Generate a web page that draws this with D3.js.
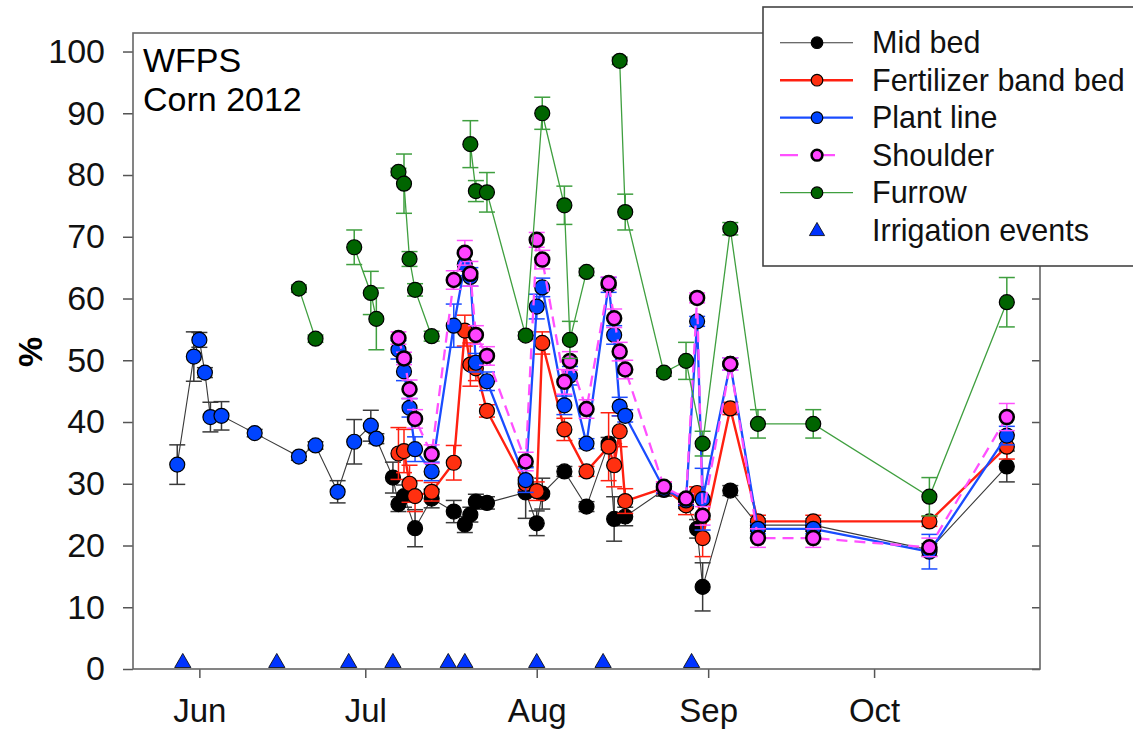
<!DOCTYPE html>
<html>
<head>
<meta charset="utf-8">
<script src="https://cdn.jsdelivr.net/npm/d3@7"></script>
<style>
  body { margin: 0; background: #fff; }
  text { font-family: Arial, "Liberation Sans", sans-serif; }
</style>
</head>
<body>
<div id="chart"></div>
<script>
// x-axis ticks (month starts) and the irrigation dates
const tickMonths = ['2012-06-01', '2012-07-01', '2012-08-01', '2012-09-01', '2012-10-01'];
const yTicks = [0, 10, 20, 30, 40, 50, 60, 70, 80, 90, 100];
const irrigationDates = ['05-29', '06-15', '06-28', '07-06', '07-16', '07-19', '08-01', '08-13', '08-29'];
const irrigationLevel = 1;

// each row: [date (2012), WFPS %, error]; null breaks the line
const midBed = [
  ['05-28', 33.1, 3.2], ['05-31', 50.6, 4.0], ['06-01', 53.3, 1.2], ['06-02', 48.0, 0.8],
  ['06-03', 40.8, 2.4], ['06-05', 41.0, 2.3], ['06-11', 38.2, 0.6], ['06-19', 34.4, 0.6],
  ['06-22', 36.2, 0.6], ['06-26', 28.7, 1.8], ['06-29', 36.8, 3.6], ['07-02', 39.4, 2.5],
  ['07-03', 37.3, 0.8], ['07-06', 31.0, 2.5], ['07-07', 26.7, 1.2], ['07-08', 28.0, 1.8],
  ['07-10', 22.8, 3.0], ['07-13', 27.6, 1.5], ['07-17', 25.5, 1.8], ['07-19', 23.4, 1.3],
  ['07-20', 25.0, 1.2], ['07-21', 27.1, 1.2], ['07-23', 26.9, 1.0], ['07-30', 28.6, 4.2],
  ['08-01', 23.6, 2.0], ['08-02', 28.4, 2.5], ['08-06', 32.0, 0.8], ['08-10', 26.3, 0.8],
  ['08-14', 36.5, 1.0], ['08-15', 24.3, 3.6], ['08-17', 24.7, 1.5], ['08-24', 29.0, 1.0],
  ['08-28', 27.0, 1.0], ['08-30', 22.7, 1.5], ['08-31', 13.3, 3.9], ['09-05', 28.9, 0.8],
  ['09-10', 23.3, 1.0], ['09-20', 23.3, 1.0], ['10-11', 19.3, 1.0], ['10-25', 32.8, 2.5]
];
// mid bed points up to this date are drawn with the plant line symbol
const earlyEnd = '07-03';

const fertBand = [
  ['07-07', 34.9, 4.2], ['07-08', 35.3, 3.5], ['07-09', 30.0, 3.0], ['07-10', 28.0, 2.5],
  ['07-13', 28.7, 1.5], ['07-17', 33.4, 2.8], ['07-19', 54.8, 2.5], ['07-20', 49.3, 3.5],
  ['07-21', 48.7, 2.0], ['07-23', 41.8, 1.0], ['07-30', 30.0, 1.0], ['08-01', 28.8, 1.5],
  ['08-02', 52.8, 1.8], ['08-06', 38.8, 1.8], ['08-10', 32.0, 0.8], ['08-14', 36.0, 5.5],
  ['08-15', 33.0, 3.5], ['08-16', 38.5, 2.5], ['08-17', 27.2, 2.0], ['08-24', 29.3, 1.0],
  ['08-28', 26.5, 1.5], ['08-30', 28.5, 1.0], ['08-31', 21.2, 3.0], ['09-05', 42.2, 1.0],
  ['09-10', 23.9, 1.0], ['09-20', 23.9, 1.0], ['10-11', 23.9, 0.8], ['10-25', 36.0, 2.0]
];

const plantLine = [
  ['07-07', 51.7, 1.5], ['07-08', 48.2, 1.5], ['07-09', 42.3, 1.5], ['07-10', 35.6, 2.0],
  ['07-13', 32.0, 1.5], ['07-17', 55.6, 3.5], ['07-19', 65.5, 1.8], ['07-20', 63.5, 1.5],
  ['07-21', 49.6, 1.5], ['07-23', 46.6, 1.5], ['07-30', 30.6, 2.0], ['08-01', 58.7, 2.0],
  ['08-02', 61.8, 1.5], ['08-06', 42.7, 1.5], ['08-07', 47.5, 1.5], ['08-10', 36.5, 0.8],
  ['08-14', 62.2, 1.2], ['08-15', 54.1, 1.5], ['08-16', 42.5, 1.5], ['08-17', 41.0, 1.0],
  ['08-24', 29.2, 0.8], ['08-28', 27.3, 0.8], ['08-30', 56.3, 0.8], ['08-31', 27.5, 5.0],
  ['09-05', 49.4, 1.0], ['09-10', 22.7, 0.8], ['09-20', 22.7, 0.8], ['10-11', 19.0, 2.8],
  ['10-25', 37.8, 1.5]
];

const shoulder = [
  ['07-07', 53.6, 1.0], ['07-08', 50.3, 1.0], ['07-09', 45.3, 1.5], ['07-10', 40.5, 1.5],
  ['07-13', 34.8, 1.5], ['07-17', 63.0, 1.5], ['07-19', 67.4, 2.0], ['07-20', 64.0, 2.0],
  ['07-21', 54.1, 1.5], ['07-23', 50.7, 1.5], ['07-30', 33.6, 1.5], ['08-01', 69.5, 1.2],
  ['08-02', 66.3, 1.5], ['08-06', 46.5, 2.0], ['08-07', 49.9, 1.5], ['08-10', 42.1, 1.5],
  ['08-14', 62.5, 1.0], ['08-15', 56.8, 1.5], ['08-16', 51.4, 1.5], ['08-17', 48.5, 1.5],
  ['08-24', 29.5, 0.8], ['08-28', 27.6, 0.8], ['08-30', 60.1, 0.8], ['08-31', 24.8, 1.5],
  ['09-05', 49.4, 1.0], ['09-10', 21.2, 1.5], ['09-20', 21.2, 1.5], ['10-11', 19.7, 1.5],
  ['10-25', 40.8, 2.2]
];

const furrow = [
  ['06-19', 61.6, 0.6], ['06-22', 53.5, 0.6], null,
  ['06-29', 68.3, 2.8], ['07-02', 60.9, 3.5], ['07-03', 56.7, 5.0], null,
  ['07-07', 80.5, 0.6], ['07-08', 78.6, 4.8], ['07-09', 66.4, 1.2], ['07-10', 61.4, 1.0],
  ['07-13', 53.9, 0.8], null,
  ['07-20', 85.0, 3.8], ['07-21', 77.4, 1.7], ['07-23', 77.2, 3.2], ['07-30', 54.0, 0.6],
  ['08-02', 90.0, 2.6], ['08-06', 75.1, 3.1], ['08-07', 53.3, 3.0], ['08-10', 64.3, 0.6], null,
  ['08-16', 98.5, 0.6], ['08-17', 74.0, 2.9], ['08-24', 48.0, 0.6], ['08-28', 49.9, 3.0],
  ['08-31', 36.5, 2.0], ['09-05', 71.3, 1.0], ['09-10', 39.7, 2.3], ['09-20', 39.7, 2.3],
  ['10-11', 27.9, 3.1], ['10-25', 59.4, 4.0]
];

const seriesNames = ['Mid bed', 'Fertilizer band bed', 'Plant line', 'Shoulder', 'Furrow'];

const parseDay = d3.timeParse('%Y-%m-%d');
const day = md => parseDay('2012-' + md);

let styles = {
  'Mid bed':             { line: '#3a3a3a', width: 1.1, fill: '#000000', dash: null, stroke: 1.2, r: 7.5 },
  'Fertilizer band bed': { line: '#ff2010', width: 2.4, fill: '#ff3010', dash: null, stroke: 1.2, r: 7.5 },
  'Plant line':          { line: '#1a4cff', width: 2.3, fill: '#0044ff', dash: null, stroke: 1.2, r: 7.5 },
  'Shoulder':            { line: '#ff50ff', width: 2.3, fill: '#ff44ff', dash: '11,7', stroke: 2.5, r: 7 },
  'Furrow':              { line: '#3f9f3f', width: 1.3, fill: '#006400', dash: null, stroke: 1.2, r: 7.5 }
};
const seriesData = [midBed, fertBand, plantLine, shoulder, furrow];

let margin = { top: 33, right: 93, bottom: 62, left: 133 };
let width = 1133 - margin.left - margin.right;
let height = 731 - margin.top - margin.bottom;

let svg = d3.select('#chart')
  .append('svg')
  .attr('width', 1133)
  .attr('height', 731);

let g = svg.append('g')
  .attr('transform', 'translate(' + margin.left + ',' + margin.top + ')');

let x = d3.scaleTime()
  .domain([day('05-20'), day('10-31')])
  .range([0, width]);
let y = d3.scaleLinear()
  .domain([0, 103])
  .range([height, 0]);

// axes
let yAxis = g.append('g')
  .call(d3.axisLeft(y).tickValues(yTicks).tickSize(10).tickPadding(18));
yAxis.select('.domain').remove();
yAxis.selectAll('line').attr('stroke', '#555').attr('stroke-width', 1.5);
yAxis.selectAll('text').attr('font-size', 34).attr('fill', '#111')
  .style('font-family', 'Arial, "Liberation Sans", sans-serif');

let yRight = g.append('g')
  .attr('transform', 'translate(' + width + ',0)')
  .call(d3.axisLeft(y).tickValues(yTicks).tickSize(8).tickFormat(''));
yRight.select('.domain').remove();
yRight.selectAll('line').attr('stroke', '#555').attr('stroke-width', 1.5);

let xAxis = g.append('g')
  .attr('transform', 'translate(0,' + height + ')')
  .call(d3.axisBottom(x)
    .tickValues(tickMonths.map(parseDay))
    .tickFormat(d3.timeFormat('%b'))
    .tickSize(9)
    .tickPadding(21));
xAxis.select('.domain').remove();
xAxis.selectAll('line').attr('stroke', '#555').attr('stroke-width', 1.5);
xAxis.selectAll('text').attr('font-size', 33).attr('fill', '#111')
  .style('font-family', 'Arial, "Liberation Sans", sans-serif');

g.append('rect')
  .attr('width', width)
  .attr('height', height)
  .attr('fill', 'none')
  .attr('stroke', '#666')
  .attr('stroke-width', 1.6);

svg.append('text')
  .attr('transform', 'translate(30,352) rotate(-90)')
  .attr('text-anchor', 'middle')
  .attr('dominant-baseline', 'central')
  .attr('font-size', 34)
  .attr('font-weight', 'bold')
  .text('%');

g.append('text').attr('x', 10).attr('y', 39).attr('font-size', 34).text('WFPS');
g.append('text').attr('x', 10).attr('y', 78).attr('font-size', 34).text('Corn 2012');

// series
let line = d3.line()
  .defined(d => d !== null)
  .x(d => x(day(d[0])))
  .y(d => y(d[1]));

seriesData.forEach((data, i) => {
  const name = seriesNames[i];
  const s = styles[name];
  const pts = data.filter(d => d !== null);
  const sg = g.append('g');

  sg.append('path')
    .datum(data)
    .attr('d', line)
    .attr('fill', 'none')
    .attr('stroke', s.line)
    .attr('stroke-width', s.width)
    .attr('stroke-dasharray', s.dash);

  const bars = sg.selectAll('g.err').data(pts).enter().append('g')
    .attr('stroke', s.line)
    .attr('stroke-width', 1.5);
  bars.append('line')
    .attr('x1', d => x(day(d[0]))).attr('x2', d => x(day(d[0])))
    .attr('y1', d => y(d[1] - d[2])).attr('y2', d => y(d[1] + d[2]));
  [1, -1].forEach(sign => {
    bars.append('line')
      .attr('x1', d => x(day(d[0])) - 8).attr('x2', d => x(day(d[0])) + 8)
      .attr('y1', d => y(d[1] + sign * d[2])).attr('y2', d => y(d[1] + sign * d[2]));
  });

  sg.selectAll('circle').data(pts).enter().append('circle')
    .attr('cx', d => x(day(d[0])))
    .attr('cy', d => y(d[1]))
    .attr('r', s.r)
    .attr('fill', d => (name === 'Mid bed' && d[0] <= earlyEnd) ? styles['Plant line'].fill : s.fill)
    .attr('stroke', '#000')
    .attr('stroke-width', s.stroke);
});

// irrigation events
g.selectAll('path.irr').data(irrigationDates).enter().append('path')
  .attr('class', 'irr')
  .attr('transform', d => 'translate(' + x(day(d)) + ',' + y(irrigationLevel) + ')')
  .attr('d', d3.symbol(d3.symbolTriangle, 115))
  .attr('fill', '#0033ff')
  .attr('stroke', '#000')
  .attr('stroke-width', 0.8);

// legend
let legend = svg.append('g');
legend.append('rect')
  .attr('x', 763).attr('y', 7)
  .attr('width', 400).attr('height', 259)
  .attr('fill', '#fff')
  .attr('stroke', '#444')
  .attr('stroke-width', 1.6);

seriesNames.concat(['Irrigation events']).forEach((name, i) => {
  const ly = 42.7 + i * 37.5;
  const s = styles[name];
  if (s) {
    legend.append('line')
      .attr('x1', 780).attr('x2', 853).attr('y1', ly).attr('y2', ly)
      .attr('stroke', s.line)
      .attr('stroke-width', s.width)
      .attr('stroke-dasharray', s.dash ? '18,19' : null);
    legend.append('circle')
      .attr('cx', 817).attr('cy', ly).attr('r', s.dash ? 5.4 : 5.8)
      .attr('fill', s.fill).attr('stroke', '#000').attr('stroke-width', s.stroke);
  } else {
    legend.append('path')
      .attr('transform', 'translate(817,' + (ly + 1) + ')')
      .attr('d', d3.symbol(d3.symbolTriangle, 100))
      .attr('fill', '#0033ff').attr('stroke', '#000').attr('stroke-width', 0.8);
  }
  legend.append('text')
    .attr('x', 872).attr('y', ly)
    .attr('dy', '0.35em')
    .attr('font-size', 30.5)
    .attr('fill', '#111')
    .text(name);
});
</script>
</body>
</html>
